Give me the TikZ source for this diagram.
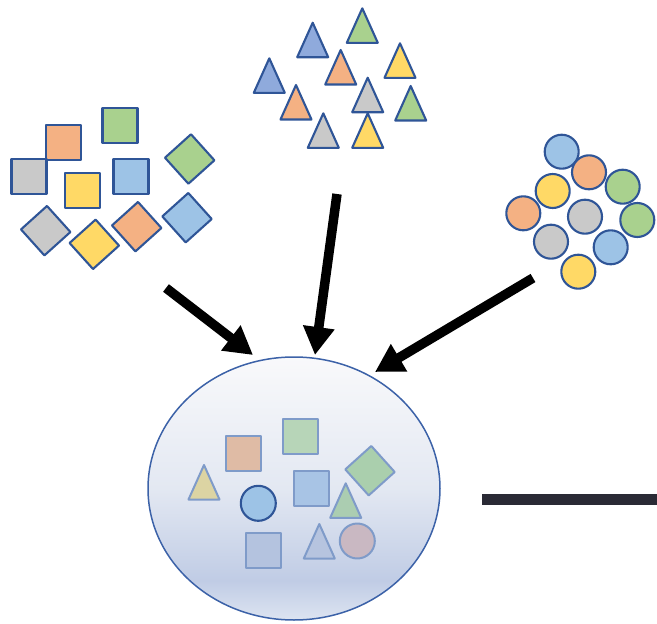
\documentclass[tikz,border=0pt]{standalone}
\usetikzlibrary{shapes.geometric,arrows.meta}

% palette
\definecolor{edge}{HTML}{2F5597}
\definecolor{fadededge}{HTML}{7F9BC9}
\definecolor{cOrange}{HTML}{F4B183}
\definecolor{cGreen}{HTML}{A9D18E}
\definecolor{cGray}{HTML}{C9C9C9}
\definecolor{cYellow}{HTML}{FFD966}
\definecolor{cBlue}{HTML}{9DC3E6}
\definecolor{cTri}{HTML}{8FAADC}
\definecolor{fOrange}{HTML}{DFBBA5}
\definecolor{fGreenA}{HTML}{B7D5B8}
\definecolor{fYellow}{HTML}{DCD4A3}
\definecolor{fBlue}{HTML}{A8C4E5}
\definecolor{fGreenB}{HTML}{AACFAD}
\definecolor{fGreenC}{HTML}{ABCDB1}
\definecolor{fSlateA}{HTML}{B4C3DF}
\definecolor{fSlateB}{HTML}{B6C4DF}
\definecolor{fRose}{HTML}{C9B8C2}
\definecolor{poolA}{HTML}{DDE4F1}
\definecolor{poolB}{HTML}{C0CCE5}
\definecolor{poolC}{HTML}{E3E8F2}
\definecolor{poolD}{HTML}{F9F9FB}
\definecolor{poolEdge}{HTML}{3C62A8}
\definecolor{barcol}{HTML}{2A2A35}

\pgfdeclareverticalshading{poolfill}{100bp}{color(0bp)=(poolA); color(25bp)=(poolA); color(32.5bp)=(poolB); color(50bp)=(poolC); color(75bp)=(poolD); color(100bp)=(poolD)}

\tikzset{
  shp/.style={draw=edge, line width=2.1pt, line join=round},
  faded/.style={draw=fadededge, line width=2pt, line join=round},
  bigarrow/.style={line width=9.5pt, -{Triangle[length=28pt,width=30pt]}},
}

% square of side 35 centred at (x,y), turned by an angle
\newcommand\sqshape[5]{\draw[#5,fill=#4,shift={(#1,#2)},rotate=#3] (-17.5,-17.5) rectangle (17.5,17.5);}
% triangle given by its apex
\newcommand\trishape[4]{\draw[#4,fill=#3] (#1,#2) -- ++(15.5,34.5) -- ++(-31,0) -- cycle;}
% disc
\newcommand\discshape[4]{\draw[#4,fill=#3] (#1,#2) circle[radius=17];}

\begin{document}
\begin{tikzpicture}[x=1pt,y=-1pt]
\useasboundingbox (0,0) rectangle (657,624);

% --- cluster of squares ---
\sqshape{63.5}{142.5}{0}{cOrange}{shp}
\sqshape{120}{125.5}{0}{cGreen}{shp}
\sqshape{29}{176.5}{0}{cGray}{shp}
\sqshape{82.5}{190.5}{0}{cYellow}{shp}
\sqshape{131}{176.5}{0}{cBlue}{shp}
\sqshape{189.7}{159}{42}{cGreen}{shp}
\sqshape{45.7}{230.7}{42}{cGray}{shp}
\sqshape{94.3}{244.3}{42}{cYellow}{shp}
\sqshape{136.7}{226.7}{42}{cOrange}{shp}
\sqshape{187}{217.7}{42}{cBlue}{shp}

% --- cluster of triangles ---
\trishape{312.7}{22.7}{cTri}{shp}
\trishape{362.3}{8.3}{cGreen}{shp}
\trishape{269.3}{58.3}{cTri}{shp}
\trishape{340.7}{50}{cOrange}{shp}
\trishape{400}{43.3}{cYellow}{shp}
\trishape{296}{85}{cOrange}{shp}
\trishape{367.7}{77.7}{cGray}{shp}
\trishape{410.7}{86}{cGreen}{shp}
\trishape{323.3}{113.3}{cGray}{shp}
\trishape{367.7}{113.3}{cYellow}{shp}

% --- cluster of discs ---
\discshape{561.7}{151.7}{cBlue}{shp}
\discshape{589}{172.3}{cOrange}{shp}
\discshape{622.7}{186.7}{cGreen}{shp}
\discshape{552.7}{191}{cYellow}{shp}
\discshape{523.3}{213.3}{cOrange}{shp}
\discshape{585}{216.7}{cGray}{shp}
\discshape{637.3}{220}{cGreen}{shp}
\discshape{551}{241.7}{cGray}{shp}
\discshape{610.7}{247.3}{cBlue}{shp}
\discshape{578.3}{271.7}{cYellow}{shp}

% --- the mixed pool ---
\node[ellipse, inner sep=0pt, minimum width=292pt, minimum height=263pt,
      shading=poolfill, draw=poolEdge, line width=1.5pt] (pool) at (294,488.5) {};

\sqshape{243.8}{453.5}{0}{fOrange}{faded}
\sqshape{300.8}{436.2}{0}{fGreenA}{faded}
\trishape{204}{465}{fYellow}{faded}
\sqshape{311.7}{488.2}{0}{fBlue}{faded}
\sqshape{370}{470.7}{42}{fGreenB}{faded}
\trishape{345.7}{483.3}{fGreenC}{faded}
\sqshape{263.5}{550.8}{0}{fSlateA}{faded}
\trishape{319.3}{524}{fSlateB}{faded}
\draw[faded,fill=fRose] (357.3,541) circle[radius=17.5];
\draw[shp,fill=cBlue] (258.3,503.3) circle[radius=17.5];

% --- arrows into the pool ---
\coordinate (sqTail) at (166,288);
\coordinate (sqTip) at (253,355);
\coordinate (triTail) at (337,194);
\coordinate (triTip) at (315,355);
\coordinate (discTail) at (533,278);
\coordinate (discTip) at (375,372);
\draw[bigarrow] (sqTail) -- (sqTip);
\draw[bigarrow] (triTail) -- (triTip);
\draw[bigarrow] (discTail) -- (discTip);

% --- outgoing bar ---
\coordinate (barStart) at (482,499);
\coordinate (barEnd) at (657,499);
\draw[line width=11pt, barcol] (barStart) -- (barEnd);
\end{tikzpicture}
\end{document}
